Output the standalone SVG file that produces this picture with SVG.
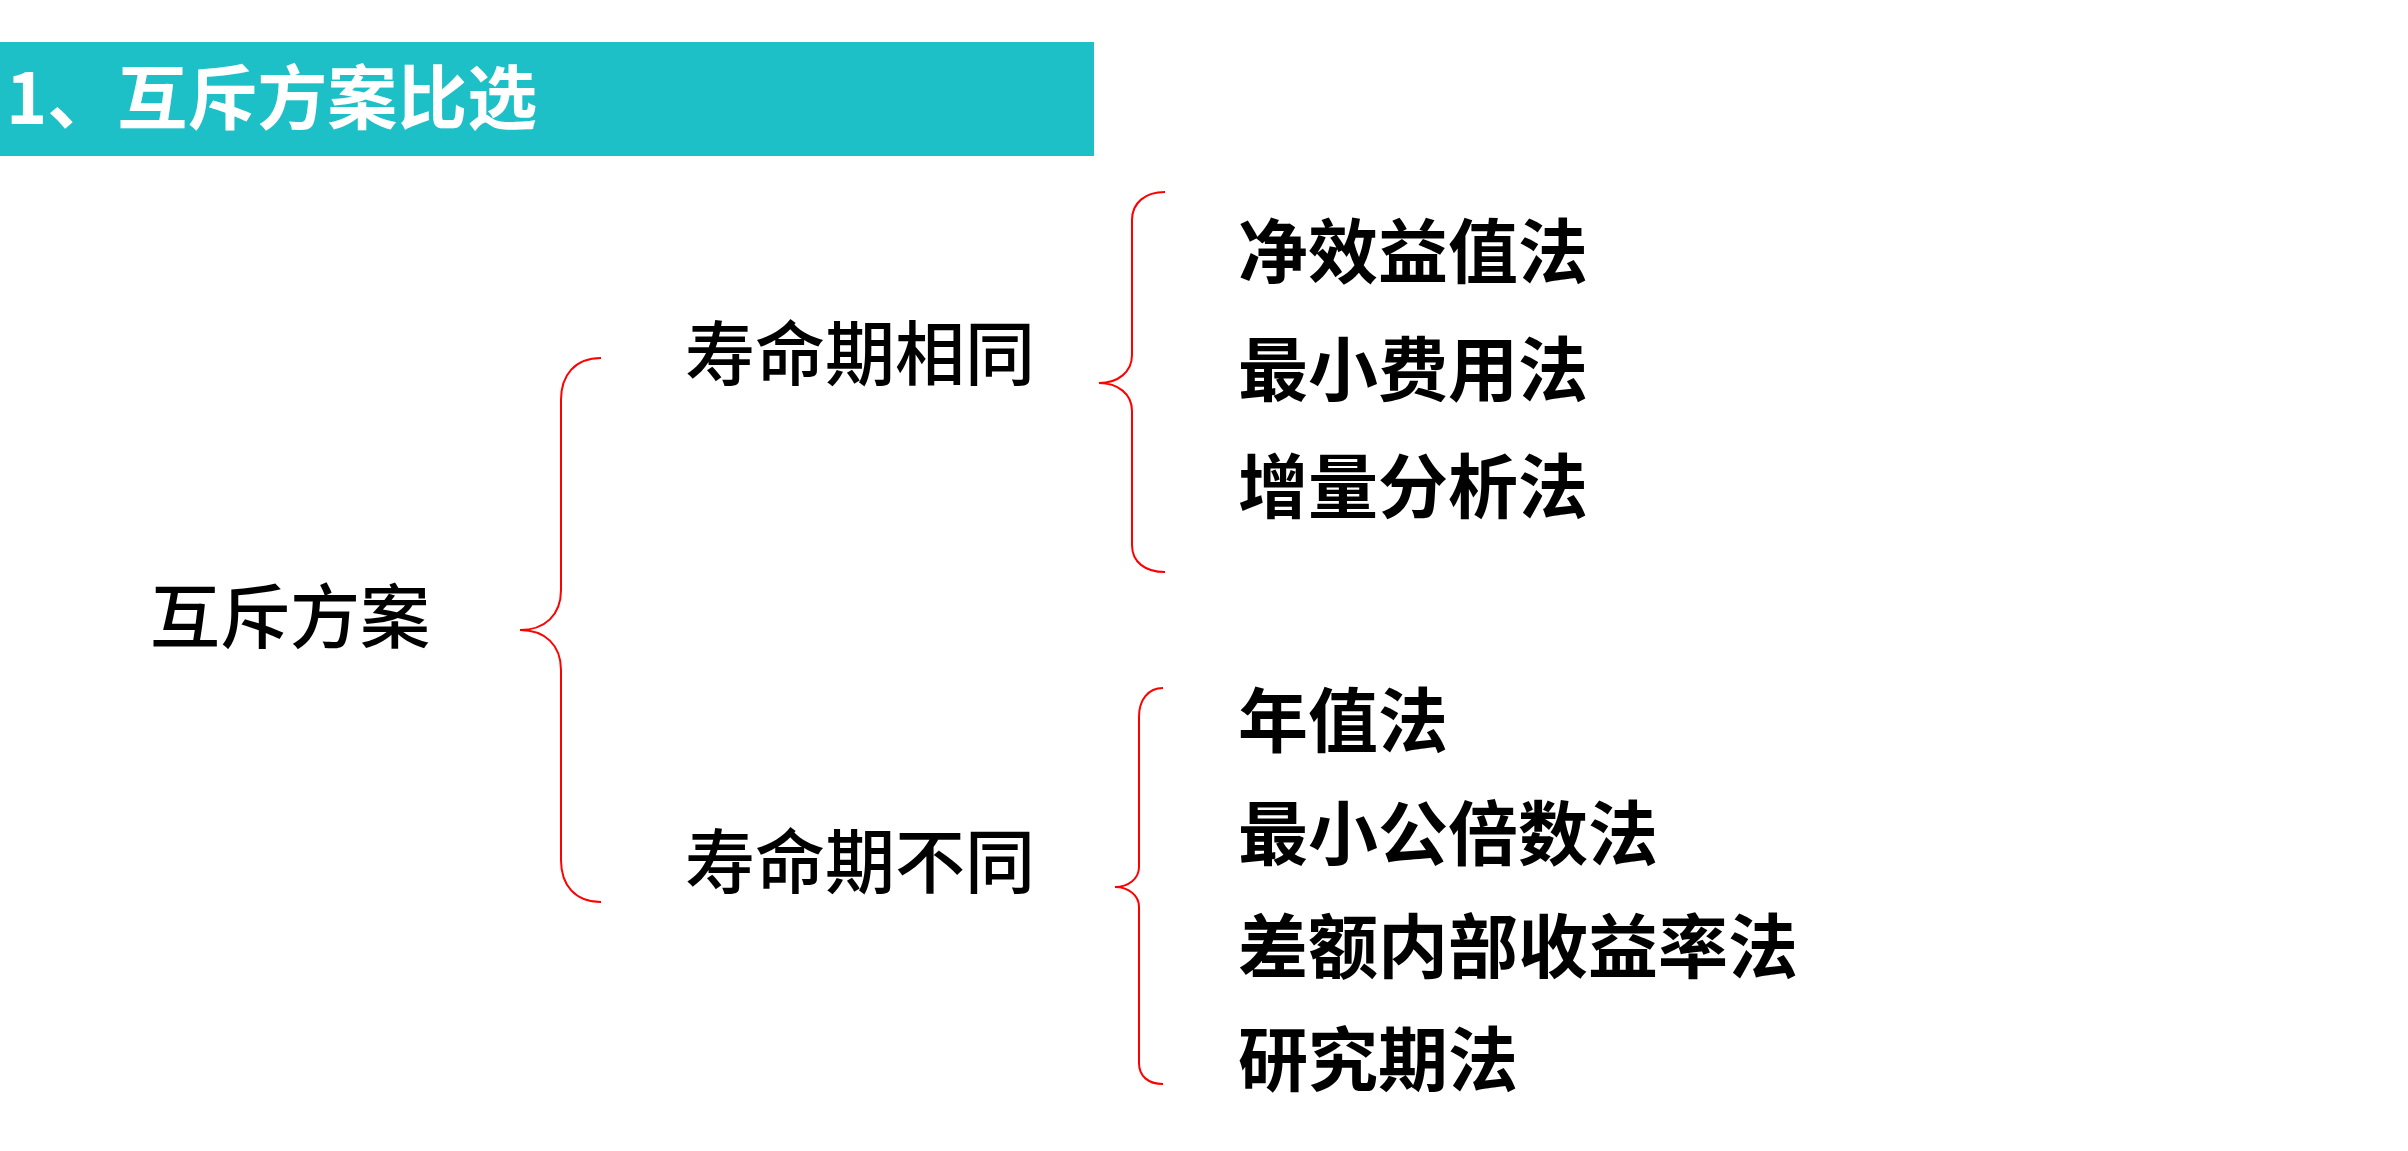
<svg xmlns="http://www.w3.org/2000/svg" width="2408" height="1151" viewBox="0 0 2408 1151">
<style>
text{font-family:"Noto Sans CJK SC","Microsoft YaHei",sans-serif;fill:#000;font-size:70px;font-weight:500}
.title{fill:#fff;font-weight:bold}
.item{font-weight:bold}
.brace{fill:none;stroke:#FF0000;stroke-width:2}
</style>
<rect width="2408" height="1151" fill="#fff"/>
<g id="header">
<rect x="0" y="42" width="1094" height="114" fill="#1DC0C6"/>
<text class="title" x="6" y="124">1、互斥方案比选</text>
</g>
<g id="connectors">
<path class="brace" d="M601,358 C575,358 561,375 561,400 L561,590 C561,615 545,630 520,630 C545,630 561,645 561,670 L561,860 C561,885 575,902 601,902"/>
<path class="brace" d="M1165,192 C1145,192 1132,203 1132,220 L1132,355 C1132,372 1118,383 1099,383 C1118,383 1132,394 1132,411 L1132,545 C1132,562 1145,572 1165,572"/>
<path class="brace" d="M1163,688 C1148,688 1139,700 1139,717 L1139,867 C1139,879 1128,887 1115,887 C1128,887 1139,895 1139,907 L1139,1063 C1139,1076 1148,1084 1163,1084"/>
</g>
<g id="root"><text x="150" y="643">互斥方案</text></g>
<g id="same"><text x="685" y="380">寿命期相同</text></g>
<g id="diff"><text x="685" y="888">寿命期不同</text></g>
<g id="m1"><text class="item" x="1238" y="278">净效益值法</text></g>
<g id="m2"><text class="item" x="1238" y="396">最小费用法</text></g>
<g id="m3"><text class="item" x="1238" y="513">增量分析法</text></g>
<g id="m4"><text class="item" x="1238" y="747">年值法</text></g>
<g id="m5"><text class="item" x="1238" y="860">最小公倍数法</text></g>
<g id="m6"><text class="item" x="1238" y="973">差额内部收益率法</text></g>
<g id="m7"><text class="item" x="1238" y="1086">研究期法</text></g>
</svg>
